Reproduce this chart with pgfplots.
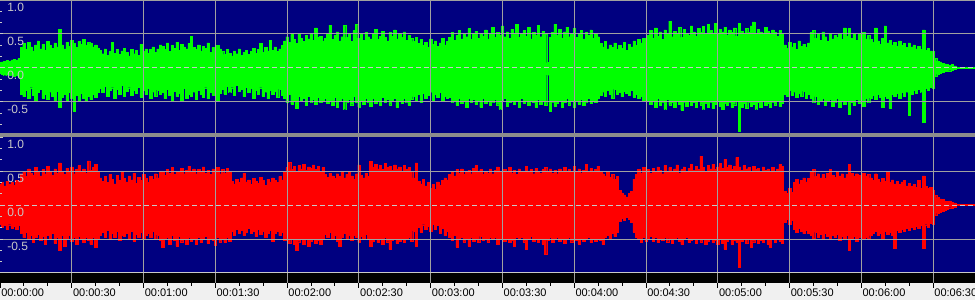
\documentclass[border=0pt]{standalone}
\usepackage{fontspec}
\setmainfont{Liberation Sans}
\usepackage{pgfplots}
\usepackage{pgfplotstable}
\pgfplotsset{compat=1.18}
\definecolor{navy}{HTML}{000080}
\definecolor{wgreen}{HTML}{00FF00}
\definecolor{wred}{HTML}{FF0000}
\definecolor{gridc}{HTML}{A0A0A0}
\definecolor{sepc}{HTML}{8C8C8C}
\definecolor{labc}{HTML}{C8C8C8}
\definecolor{dashc}{HTML}{C8C8C8}
\definecolor{rulerbg}{HTML}{F0F0F0}

\pgfplotstableread{
t gh gl rh rl
0 8 -8 30 -28
1 9 -9 33 -33
2 10 -10 28 -30
3 11 -9 35 -36
4 10 -11 31 -29
5 12 -10 34 -34
6 13 -12 29 -31
7 12 -11 36 -35
8 14 -13 33 -30
9 30 -38 45 -42
10 36 -42 50 -48
11 27 -33 42 -40
12 38 -45 53 -51
13 31 -29 47 -44
14 25 -40 44 -55
15 34 -47 55 -47
16 40 -36 48 -43
17 28 -31 43 -52
18 35 -44 52 -46
19 26 -38 46 -58
20 39 -46 57 -45
21 33 -35 49 -50
22 29 -42 44 -42
23 37 -48 53 -56
24 31 -34 47 -48
25 57 -57 62 -66
26 34 -43 50 -45
27 28 -39 45 -60
28 38 -47 54 -49
29 32 -36 48 -44
30 41 -45 56 -53
31 36 -63 46 -47
32 30 -40 52 -57
33 39 -48 58 -46
34 35 -37 49 -51
35 42 -44 53 -55
36 33 -49 47 -48
37 38 -41 65 -52
38 36 -46 51 -58
39 31 -38 55 -47
40 34 -43 60 -62
41 29 -36 48 -50
42 26 -30 40 -45
43 21 -36 35 -40
44 28 -27 42 -48
45 19 -41 33 -37
46 24 -33 45 -50
47 38 -29 38 -42
48 22 -44 31 -47
49 27 -31 44 -39
50 20 -38 36 -52
51 25 -26 50 -44
52 29 -42 39 -46
53 23 -34 34 -41
54 18 -29 43 -49
55 27 -40 37 -38
56 21 -32 47 -53
57 26 -37 32 -43
58 19 -28 41 -47
59 35 -43 36 -40
60 24 -33 45 -51
61 28 -39 39 -45
62 22 -30 33 -42
63 27 -44 42 -48
64 31 -35 38 -39
65 23 -41 46 -50
66 28 -32 40 -44
67 34 -38 48 -52
68 32 -36 50 -62
69 27 -45 44 -50
70 37 -31 52 -47
71 24 -40 47 -58
72 33 -47 55 -45
73 29 -34 45 -52
74 38 -42 50 -60
75 26 -37 48 -46
76 35 -49 54 -54
77 31 -30 46 -49
78 28 -44 51 -57
79 36 -38 57 -47
80 47 -41 49 -53
81 30 -35 53 -50
82 27 -46 46 -58
83 34 -32 52 -48
84 25 -39 48 -55
85 32 -43 56 -51
86 29 -29 47 -46
87 37 -45 51 -56
88 23 -36 45 -49
89 30 -40 53 -52
90 26 -33 49 -59
91 33 -47 55 -47
92 28 -37 46 -54
93 24 -31 52 -50
94 20 -38 47 -55
95 27 -27 54 -48
96 22 -35 49 -53
97 18 -29 35 -38
98 25 -40 31 -44
99 21 -26 38 -35
100 28 -34 33 -41
101 19 -31 40 -37
102 23 -42 47 -45
103 26 -28 34 -40
104 20 -36 37 -34
105 24 -30 30 -42
106 29 -44 39 -38
107 22 -33 35 -46
108 27 -38 32 -36
109 36 -29 41 -43
110 23 -41 36 -39
111 30 -35 29 -47
112 25 -45 38 -41
113 41 -32 34 -37
114 26 -39 40 -53
115 31 -34 36 -42
116 24 -43 33 -38
117 28 -31 42 -45
118 33 -40 37 -40
119 40 -44 50 -52
120 46 -51 55 -48
121 38 -39 63 -56
122 49 -53 52 -50
123 42 -47 57 -58
124 36 -59 49 -67
125 51 -42 58 -54
126 44 -49 53 -49
127 39 -45 60 -57
128 48 -55 51 -51
129 43 -41 56 -60
130 50 -50 54 -53
131 41 -46 59 -49
132 59 -53 52 -56
133 45 -43 57 -52
134 47 -51 50 -58
135 40 -48 55 -50
136 44 -45 45 -43
137 50 -52 41 -48
138 63 -47 47 -40
139 42 -55 43 -51
140 48 -43 39 -45
141 53 -58 46 -53
142 40 -49 42 -60
143 46 -44 48 -47
144 63 -60 40 -42
145 45 -50 45 -49
146 51 -46 50 -45
147 39 -54 43 -52
148 55 -42 38 -44
149 64 -51 46 -48
150 44 -57 59 -55
151 49 -47 44 -46
152 41 -53 40 -50
153 52 -45 47 -43
154 46 -50 42 -49
155 43 -56 64 -60
156 50 -44 55 -53
157 57 -52 60 -49
158 42 -48 53 -55
159 47 -55 58 -51
160 54 -43 52 -57
161 45 -51 61 -48
162 40 -46 55 -54
163 52 -54 57 -65
164 47 -49 51 -52
165 56 -45 59 -50
166 43 -58 53 -56
167 49 -47 56 -53
168 45 -52 50 -49
169 53 -44 58 -55
170 41 -50 52 -51
171 48 -55 55 -47
172 44 -46 49 -53
173 39 -42 40 -38
174 45 -48 62 -60
175 36 -39 35 -33
176 42 -51 31 -40
177 33 -37 38 -29
178 38 -44 28 -36
179 30 -40 33 -31
180 43 -35 25 -38
181 35 -47 30 -28
182 40 -38 23 -35
183 32 -43 34 -30
184 37 -36 29 -42
185 44 -49 36 -34
186 34 -41 40 -45
187 39 -45 37 -39
188 45 -43 45 -47
189 52 -50 50 -52
190 41 -47 43 -45
191 48 -55 52 -62
192 55 -45 47 -50
193 43 -52 53 -48
194 50 -48 45 -54
195 46 -57 49 -51
196 58 -44 51 -60
197 42 -51 46 -47
198 49 -46 54 -53
199 54 -53 58 -49
200 44 -49 48 -55
201 51 -58 52 -46
202 47 -44 45 -52
203 56 -52 50 -49
204 43 -47 47 -54
205 50 -55 53 -48
206 60 -50 46 -51
207 45 -46 51 -47
208 52 -54 56 -58
209 48 -60 49 -50
210 62 -49 44 -46
211 46 -45 52 -53
212 53 -56 48 -49
213 44 -51 55 -55
214 57 -47 47 -52
215 49 -53 51 -60
216 64 -48 45 -48
217 45 -58 53 -51
218 51 -44 49 -47
219 55 -52 50 -54
220 47 -49 57 -65
221 60 -55 48 -50
222 43 -47 52 -46
223 52 -51 46 -53
224 48 -57 54 -49
225 63 -46 50 -55
226 46 -53 47 -51
227 54 -49 52 -57
228 50 -55 55 -72
229 8 -10 49 -52
230 45 -63 53 -48
231 52 -50 47 -55
232 64 -56 51 -50
233 48 -52 46 -47
234 57 -47 53 -53
235 44 -58 49 -49
236 53 -51 55 -56
237 60 -45 48 -51
238 46 -54 52 -47
239 51 -49 50 -54
240 58 -57 57 -50
241 45 -48 49 -52
242 50 -53 53 -57
243 55 -46 47 -49
244 43 -55 51 -53
245 52 -50 60 -51
246 48 -44 49 -48
247 56 -52 54 -55
248 44 -47 48 -50
249 50 -51 52 -53
250 46 -45 57 -49
251 36 -40 50 -52
252 31 -35 46 -58
253 39 -42 43 -47
254 28 -33 48 -44
255 34 -38 41 -50
256 30 -44 45 -42
257 37 -31 38 -46
258 27 -39 42 -40
259 33 -36 22 -24
260 29 -42 18 -20
261 38 -34 15 -22
262 26 -37 12 -18
263 35 -40 17 -21
264 31 -32 20 -25
265 40 -43 38 -40
266 33 -38 45 -47
267 42 -45 52 -50
268 37 -41 47 -55
269 44 -47 55 -48
270 39 -44 49 -53
271 48 -47 52 -50
272 55 -53 47 -46
273 44 -49 54 -53
274 59 -58 49 -48
275 47 -45 56 -55
276 53 -55 51 -50
277 42 -50 46 -52
278 56 -60 58 -47
279 49 -46 50 -54
280 69 -54 55 -49
281 46 -51 48 -56
282 54 -57 53 -51
283 50 -48 59 -48
284 60 -53 47 -53
285 45 -62 52 -58
286 57 -50 56 -50
287 51 -56 49 -47
288 48 -47 54 -55
289 62 -55 60 -52
290 53 -51 51 -49
291 47 -58 57 -56
292 58 -49 52 -51
293 52 -54 72 -54
294 61 -60 55 -49
295 49 -52 50 -57
296 64 -57 58 -53
297 55 -50 53 -50
298 51 -59 60 -55
299 66 -53 52 -52
300 50 -48 56 -58
301 57 -56 61 -51
302 53 -61 54 -56
303 60 -52 67 -65
304 48 -55 55 -53
305 56 -50 59 -50
306 52 -58 52 -57
307 59 -54 57 -52
308 47 -49 70 -55
309 66 -93 56 -92
310 54 -57 51 -53
311 50 -52 58 -50
312 58 -59 53 -56
313 52 -50 55 -51
314 62 -56 50 -62
315 68 -53 57 -54
316 51 -60 52 -50
317 57 -51 54 -56
318 53 -57 49 -52
319 49 -49 56 -55
320 60 -55 51 -49
321 54 -52 53 -57
322 50 -58 48 -62
323 56 -50 55 -51
324 52 -54 50 -55
325 47 -49 53 -50
326 55 -56 60 -53
327 50 -52 57 -56
328 34 -38 20 -25
329 29 -42 17 -21
330 38 -33 24 -28
331 31 -40 19 -23
332 36 -35 33 -36
333 27 -43 38 -40
334 40 -37 31 -34
335 32 -41 36 -39
336 35 -34 40 -42
337 30 -44 34 -37
338 37 -39 39 -41
339 52 -45 50 -44
340 55 -50 52 -49
341 44 -42 42 -40
342 49 -53 46 -47
343 41 -47 40 -43
344 53 -44 45 -50
345 46 -55 39 -42
346 40 -49 47 -46
347 51 -46 52 -51
348 43 -56 44 -45
349 48 -50 41 -48
350 45 -44 48 -43
351 50 -58 43 -52
352 42 -49 46 -46
353 59 -53 40 -49
354 47 -47 45 -44
355 58 -68 60 -67
356 44 -51 47 -50
357 50 -55 42 -46
358 41 -46 46 -53
359 49 -52 44 -48
360 45 -48 41 -45
361 52 -56 47 -51
362 43 -45 43 -47
363 48 -50 45 -49
364 42 -44 40 -45
365 38 -40 36 -42
366 59 -46 46 -39
367 40 -38 38 -44
368 35 -43 34 -41
369 44 -57 39 -50
370 62 -41 35 -38
371 37 -45 49 -43
372 41 -59 33 -40
373 34 -39 37 -45
374 38 -42 31 -63
375 32 -37 35 -37
376 40 -44 30 -40
377 33 -36 34 -35
378 36 -41 36 -38
379 30 -35 28 -34
380 37 -70 32 -37
381 31 -38 27 -33
382 34 -33 30 -36
383 28 -37 26 -31
384 32 -31 36 -34
385 27 -35 25 -30
386 56 -80 43 -63
387 26 -30 27 -29
388 29 -33 24 -32
389 25 -28 26 -27
390 24 -30 22 -28
391 14 -12 14 -15
392 10 -9 11 -12
393 9 -8 9 -10
394 7 -6 8 -9
395 6 -5 6 -7
396 5 -5 5 -6
397 4 -4 6 -4
398 5 -3 4 -5
399 3 -2 3 -3
400 1 -1 1 -1
401 1 -1 1 -1
402 1 -1 1 -1
403 1 -1 1 -1
404 1 -1 1 -1
405 1 -1 1 -1
406 1 -1 1 -1
407 1 -1 1 -1
}\wave

\pgfplotsset{
  wavepanel/.style={
    scale only axis, width=731.25pt, xmin=0, xmax=407.5, ymax=100,
    axis on top,
    axis line style={draw=none},
    axis background/.style={fill=navy},
    xtick={30,60,...,390}, xticklabels={}, xmajorgrids,
    xtick style={draw=none},
    ytick={-50,50}, yticklabels={-0.5,0.5}, ymajorgrids,
    extra y ticks={0,100}, extra y tick labels={0.0,1.0},
    extra y tick style={grid=none},
    minor ytick={-83.33,-66.67,-33.33,-16.67,16.67,33.33,66.67,83.33},
    grid style={draw=gridc, line width=0.75pt},
    ytick pos=left, tick align=inside,
    major tick length=2.25pt, minor tick length=1.5pt,
    ytick style={draw=labc, line width=0.75pt},
    yticklabel style={anchor=north west, inner sep=0pt, xshift=5.25pt, yshift=-2pt, text=labc, font=\fontsize{9}{10}\selectfont},
  },
  wavefill/.style={#1, fill=#1, line width=0.3pt, const plot mark mid},
}

\begin{document}
\begin{tikzpicture}
\useasboundingbox (0,0) rectangle (731.25pt,225pt);
\clip (0,0) rectangle (731.25pt,225pt);
\fill[navy] (0,0) rectangle (731.25pt,225pt);
% separator
\fill[sepc] (0,122.25pt) rectangle (731.25pt,125.25pt);

% top panel (left channel)
\begin{axis}[wavepanel, at={(0pt,125.25pt)}, anchor=south west, height=99.75pt, ymin=-95.6]
\addplot[wavefill=wgreen] table[x=t,y=gh]{\wave} \closedcycle;
\addplot[wavefill=wgreen] table[x=t,y=gl]{\wave} \closedcycle;
\addplot[dashc, line width=0.75pt, dash pattern=on 3.75pt off 2.25pt] coordinates {(0,0) (407.5,0)};
\end{axis}

% bottom panel (right channel)
\begin{axis}[wavepanel, at={(0pt,21pt)}, anchor=south west, height=101.25pt, ymin=-98.5]
\addplot[wavefill=wred] table[x=t,y=rh]{\wave} \closedcycle;
\addplot[wavefill=wred] table[x=t,y=rl]{\wave} \closedcycle;
\addplot[dashc, line width=0.75pt, dash pattern=on 3.75pt off 2.25pt] coordinates {(0,0) (407.5,0)};
\end{axis}

% black band
\begin{axis}[at={(0pt,12.75pt)}, anchor=south west, scale only axis, width=731.25pt, height=7.5pt,
  xmin=0, xmax=407.5, ymin=0, ymax=1, axis line style={draw=none},
  axis background/.style={fill=black},
  xtick={30,60,...,390}, xticklabels={}, xtick style={draw=none}, xmajorgrids,
  grid style={draw=gridc, line width=0.75pt}, ytick=\empty]
\addplot[draw=none] coordinates {(0,0.5)};
\end{axis}

% ruler
\begin{axis}[at={(0pt,0pt)}, anchor=south west, scale only axis, width=731.25pt, height=12.75pt,
  xmin=0, xmax=407.5, ymin=0, ymax=1, axis line style={draw=none},
  axis background/.style={fill=rulerbg},
  xtick={0,30,...,390},
  xticklabels={00:00:00,00:00:30,00:01:00,00:01:30,00:02:00,00:02:30,00:03:00,00:03:30,00:04:00,00:04:30,00:05:00,00:05:30,00:06:00,00:06:30},
  minor x tick num=2, xtick pos=right, xticklabel pos=left, tick align=inside,
  major tick length=3.75pt, minor tick length=2.25pt,
  xtick style={draw=black, line width=0.75pt}, ytick=\empty,
  xticklabel style={anchor=south west, inner sep=0pt, xshift=0.75pt, yshift=2.25pt, text=black, font=\fontsize{8.25}{9}\selectfont}]
\addplot[draw=none] coordinates {(0,0.5)};
\end{axis}

\fill[gridc] (0,224.25pt) rectangle (731.25pt,225pt);
\fill[labc] (0,20.25pt) rectangle (731.25pt,21pt);
\end{tikzpicture}
\end{document}
